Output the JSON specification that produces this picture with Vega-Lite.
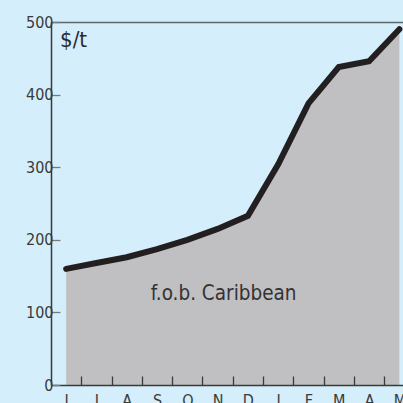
{
  "$schema": "https://vega.github.io/schema/vega-lite/v6.json",
  "autosize": "none",
  "width": 352,
  "height": 363,
  "padding": {"left": 51, "top": 22, "right": 0, "bottom": 18},
  "background": "#d5eefb",
  "config": {
    "view": {"stroke": null},
    "font": "DejaVu Sans Condensed, Roboto, sans-serif",
    "axis": {
      "labelFont": "DejaVu Sans Condensed, Roboto, sans-serif",
      "labelFontSize": 16,
      "labelColor": "#3a3a3a",
      "domainColor": "#3a3a3a",
      "domainWidth": 1.5,
      "tickColor": "#3a3a3a",
      "tickWidth": 1.3,
      "grid": false,
      "title": null
    }
  },
  "data": {
    "values": [
      {"i": 0, "month": "Jun", "price": 160},
      {"i": 1, "month": "Jul", "price": 168},
      {"i": 2, "month": "Aug", "price": 176},
      {"i": 3, "month": "Sep", "price": 187},
      {"i": 4, "month": "Oct", "price": 200},
      {"i": 5, "month": "Nov", "price": 215},
      {"i": 6, "month": "Dec", "price": 233},
      {"i": 7, "month": "Jan", "price": 304},
      {"i": 8, "month": "Feb", "price": 388},
      {"i": 9, "month": "Mar", "price": 438},
      {"i": 10, "month": "Apr", "price": 446},
      {"i": 11, "month": "May", "price": 490}
    ]
  },
  "resolve": {"axis": {"x": "independent", "y": "independent"}},
  "layer": [
    {
      "mark": {"type": "area", "color": "#c0c0c2"},
      "encoding": {
        "x": {
          "field": "i", "type": "quantitative",
          "scale": {"domain": [-0.5, 11.12], "nice": false, "zero": false},
          "axis": {
            "orient": "bottom",
            "values": [0.5, 1.5, 2.5, 3.5, 4.5, 5.5, 6.5, 7.5, 8.5, 9.5, 10.5],
            "labels": false,
            "tickSize": -9,
            "zindex": 1
          }
        },
        "y": {
          "field": "price", "type": "quantitative",
          "scale": {"domain": [0, 500], "nice": false},
          "axis": {
            "values": [0, 100, 200, 300, 400, 500],
            "tickSize": -9,
            "tickColor": "#7a7a7a",
            "labelPadding": 7,
            "zindex": 1
          }
        }
      }
    },
    {
      "mark": {"type": "line", "color": "#231f20", "strokeWidth": 6, "strokeCap": "round"},
      "encoding": {
        "x": {
          "field": "i", "type": "quantitative",
          "axis": {
            "orient": "bottom",
            "values": [0, 1, 2, 3, 4, 5, 6, 7, 8, 9, 10, 11],
            "ticks": false,
            "domain": false,
            "labelPadding": 7,
            "labelExpr": "['J','J','A','S','O','N','D','J','F','M','A','M'][datum.value]"
          }
        },
        "y": {"field": "price", "type": "quantitative", "axis": null}
      }
    },
    {
      "data": {"values": [{}]},
      "mark": {"type": "text", "fontSize": 20.5, "color": "#333333", "align": "center", "baseline": "alphabetic"},
      "encoding": {
        "x": {
          "datum": 5.2, "type": "quantitative",
          "axis": {"orient": "top", "domain": true, "ticks": false, "labels": false, "domainColor": "#5a6870"}
        },
        "y": {"datum": 117, "type": "quantitative", "axis": null},
        "text": {"value": "f.o.b. Caribbean"}
      }
    },
    {
      "data": {"values": [{}]},
      "mark": {"type": "text", "fontSize": 22, "color": "#2a2a2a", "align": "left", "baseline": "alphabetic"},
      "encoding": {
        "x": {"datum": -0.2, "type": "quantitative", "axis": null},
        "y": {"datum": 465, "type": "quantitative", "axis": null},
        "text": {"value": "$/t"}
      }
    }
  ]
}
